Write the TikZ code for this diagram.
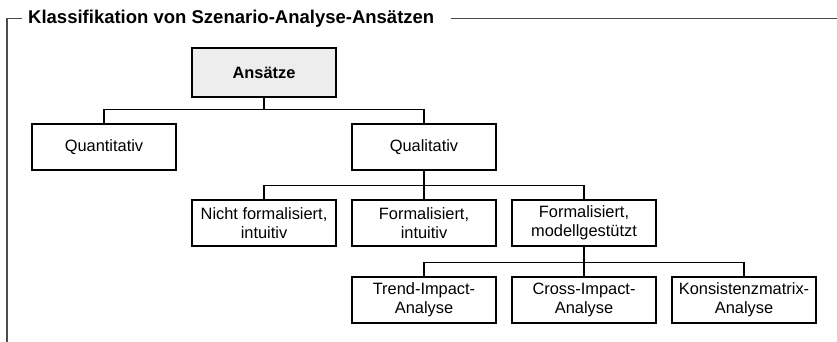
\documentclass[tikz,border=0pt]{standalone}
\usepackage{fontspec}
\setmainfont{Liberation Sans}
\begin{document}
\begin{tikzpicture}[x=1pt,y=-1pt,
  box/.style={draw=black, line width=1.2pt, minimum width=144pt, inner sep=0pt,
    align=center, font=\fontsize{16.4}{19.5}\selectfont},
  onebox/.style={box, minimum height=46pt},
  twobox/.style={box, minimum height=46pt},
  rootbox/.style={box, minimum height=49pt, fill=black!7, font=\fontsize{16.4}{19.5}\selectfont\bfseries},
  link/.style={draw=black, line width=1.2pt},
  frame/.style={draw=black!70, line width=1.8pt}]
\useasboundingbox (0,0) rectangle (837,342);

% frame with title
\node[anchor=west, inner sep=0pt, font=\fontsize{18.5}{21}\selectfont\bfseries] (title) at (28,18.5)
  {Klassifikation von Szenario-Analyse-Ansätzen};
\coordinate (fl) at (7,18.5);
\coordinate (fb) at (7,342);
\coordinate (fr) at (837,18.5);
\draw[frame] (fb) -- (fl) -- (22,18.5);
\draw[frame] ([xshift=17pt]title.east) -- (fr);

% level 0
\node[rootbox] (root) at (264,72.5) {Ansätze};
% level 1
\node[onebox] (quant) at (104,147) {Quantitativ};
\node[onebox] (qual) at (424,147) {Qualitativ};
% level 2
\node[twobox] (nf) at (264,223) {Nicht formalisiert,\\intuitiv};
\node[twobox] (fi) at (424,223) {Formalisiert,\\intuitiv};
\node[twobox] (fm) at (584,223) {Formalisiert,\\modellgestützt};
% level 3
\node[twobox] (ti) at (424,300) {Trend-Impact-\\Analyse};
\node[twobox] (ci) at (584,300) {Cross-Impact-\\Analyse};
\node[twobox] (km) at (744,300) {Konsistenzmatrix-\\Analyse};

% connectors
\draw[link] (root.south) -- ++(0,12) -| (quant.north);
\draw[link] (root.south) -- ++(0,12) -| (qual.north);
\draw[link] (qual.south) -- ++(0,15) -| (nf.north);
\draw[link] (qual.south) -- (fi.north);
\draw[link] (qual.south) -- ++(0,15) -| (fm.north);
\draw[link] (fm.south) -- ++(0,16) -| (ti.north);
\draw[link] (fm.south) -- (ci.north);
\draw[link] (fm.south) -- ++(0,16) -| (km.north);
\end{tikzpicture}
\end{document}
